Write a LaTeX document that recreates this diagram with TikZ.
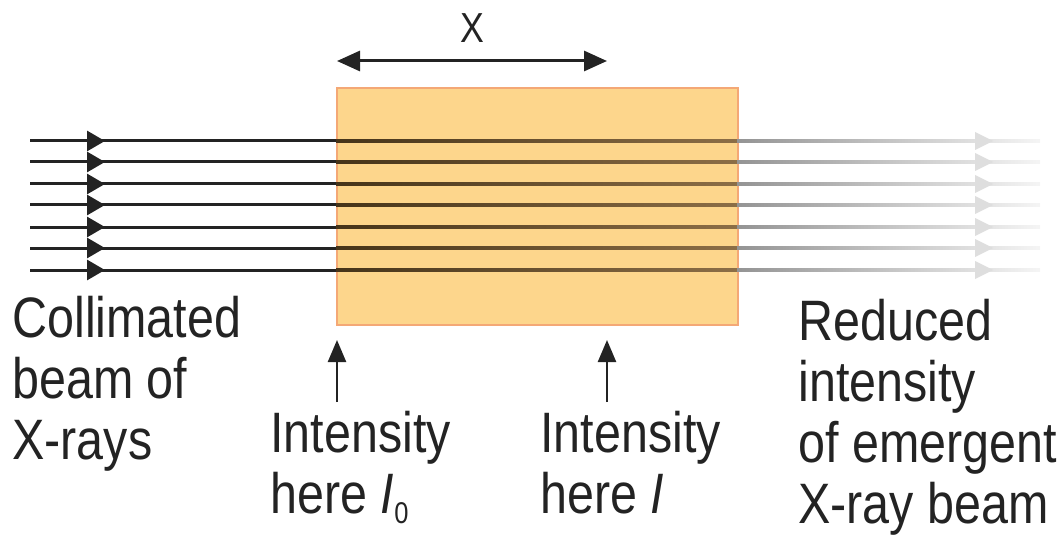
\documentclass[tikz,border=0pt]{standalone}
\usepackage{fontspec}
\setmainfont[FakeStretch=0.85]{Liberation Sans}
\usetikzlibrary{arrows.meta}
\definecolor{slab}{RGB}{253,214,140}
\definecolor{slabedge}{RGB}{244,168,118}
\definecolor{ink}{RGB}{35,35,35}
\definecolor{rayin}{RGB}{70,52,25}
\definecolor{rayout}{RGB}{140,110,70}
\tikzset{
  ray/.style={draw=ink, line width=1.5pt},
  raytip/.style={-{Triangle[length=9pt, width=10pt]}},
  pointer/.style={draw=ink, line width=1.2pt, -{Triangle[length=11pt, width=9pt]}},
  span/.style={draw=ink, line width=1.5pt, {Triangle[length=11.5pt, width=10pt]}-{Triangle[length=11.5pt, width=10pt]}},
  caption/.style={font=\fontsize{28.5}{30.5}\selectfont, text=ink, align=left, inner sep=0pt, anchor=base west},
}
\newcommand{\lowsub}[1]{\raisebox{-5pt}{\fontsize{15}{15}\selectfont #1}}
\begin{document}
\begin{tikzpicture}[x=0.5pt, y=-0.5pt]
  \useasboundingbox (0,0) rectangle (1061,535);
  % absorbing slab
  \node[fill=slab, draw=slabedge, line width=1pt, minimum width=200.5pt, minimum height=118.5pt,
    inner sep=0pt, anchor=north west] (slab) at (336,87) {};
  % beam of rays
  \foreach \y [count=\i] in {141,162,184,205,227,248,270} {
    \coordinate (src\i) at (30,\y);
    \coordinate (out\i) at (1040,\y);
    \draw[ray] (src\i) -- (slab.west |- src\i);
    \draw[ray, raytip] (src\i) -- (105,\y);
    \shade[left color=rayin, right color=rayout] (336,\y-1.5) rectangle (737,\y+1.5);
    \shade[left color=black!42, right color=black!4] (737,\y-1.5) rectangle (out\i |- 0,\y+1.5);
    \fill[black!13] (975,\y-9) -- (993,\y) -- (975,\y+9) -- cycle;
  }
  % thickness x
  \coordinate (xl) at (337,61);
  \coordinate (xr) at (607,61);
  \draw[span] (xl) -- (xr);
  \node[font=\fontsize{21}{24}\selectfont, text=ink, inner sep=0pt, anchor=base] (xlab) at (472,43) {X};
  % labels (anchored at the last line)
  \node[caption] (beam) at (12,459) {Collimated\\beam of\\X-rays};
  \node[caption] (inlab) at (270,513) {Intensity\\here \textit{I}\lowsub{0}};
  \node[caption] (outlab) at (540,513) {Intensity\\here \textit{I}};
  \node[caption] (emerg) at (798,523) {Reduced\\intensity\\of emergent\\X-ray beam};
  % pointers
  \coordinate (infoot) at (337,402);
  \coordinate (intip) at (337,340);
  \coordinate (outfoot) at (607,402);
  \coordinate (outtip) at (607,340);
  \draw[pointer] (infoot) -- (intip);
  \draw[pointer] (outfoot) -- (outtip);
\end{tikzpicture}
\end{document}
